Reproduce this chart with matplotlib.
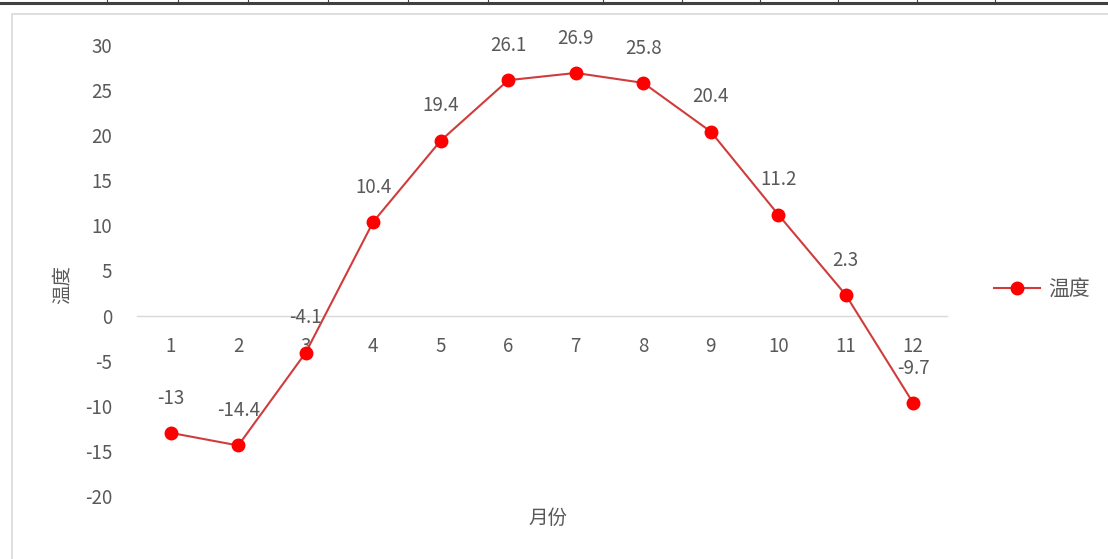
import matplotlib.pyplot as plt
from matplotlib.lines import Line2D
from matplotlib.patches import Rectangle

plt.rcParams['font.family'] = ['Noto Sans CJK SC', 'DejaVu Sans']
plt.rcParams['axes.unicode_minus'] = False

# monthly mean temperature
months = list(range(1, 13))
month_labels = [str(m) for m in months]
temps = [-13, -14.4, -4.1, 10.4, 19.4, 26.1, 26.9, 25.8, 20.4, 11.2, 2.3, -9.7]
y_ticks = list(range(-20, 31, 5))

W, H = 1108, 559
fig = plt.figure(figsize=(W / 100, H / 100), dpi=100, facecolor='white')

# sheet row line and cell separators along the top edge
fig.add_artist(Line2D([0, 1], [1 - 3 / H, 1 - 3 / H], color='#404040', lw=2.2))
for cx in [107, 178, 248, 328, 408, 488, 603, 682, 760, 838, 917, 995]:
    fig.add_artist(Line2D([cx / W, cx / W], [1 - 4 / H, 1], color='#404040', lw=0.8))

# chart frame
fig.add_artist(Rectangle((12 / W, -0.05), 1.2, 1 - 14 / H + 0.05,
                         transform=fig.transFigure, fill=False,
                         edgecolor='#d9d9d9', lw=1.2))

ax = fig.add_axes([137 / W, 1 - 496 / H, (947 - 137) / W, (496 - 45) / H])
text_color = '#595959'
fs = 13.5

ax.plot(months, temps, color='#d03c3c', lw=1.5, marker='o',
        markersize=9, markerfacecolor='#ff0000', markeredgecolor='#ff0000',
        label='温度', zorder=3)

for m, t in zip(months, temps):
    ax.annotate(f'{t:g}', (m, t), xytext=(0, 25), textcoords='offset points',
                ha='center', va='center', fontsize=fs, color=text_color)

ax.set_xlim(0.5, 12.5)
ax.set_ylim(-20, 30)
ax.set_yticks(y_ticks)
ax.set_xticks(months)
ax.set_xticklabels(month_labels)

for side in ['top', 'right', 'left']:
    ax.spines[side].set_visible(False)
ax.spines['bottom'].set_position(('data', 0))
ax.spines['bottom'].set_color('#d9d9d9')
ax.spines['bottom'].set_linewidth(1.0)

ax.tick_params(axis='y', length=0, pad=18, labelsize=fs, labelcolor=text_color)
ax.tick_params(axis='x', length=0, pad=15, labelsize=fs, labelcolor=text_color)

fig.text(62 / W, 1 - 285 / H, '温度', rotation=90, ha='center', va='center',
         fontsize=14, color=text_color)
fig.text(548 / W, 1 - 518 / H, '月份', ha='center', va='center',
         fontsize=14, color=text_color)

ax.legend(loc='center left', bbox_to_anchor=(975 / W, 1 - 289 / H),
          bbox_transform=fig.transFigure, frameon=False, fontsize=15,
          labelcolor=text_color, handlelength=2.2, handletextpad=0.4)

fig.savefig('out.png', dpi=100, facecolor='white')
